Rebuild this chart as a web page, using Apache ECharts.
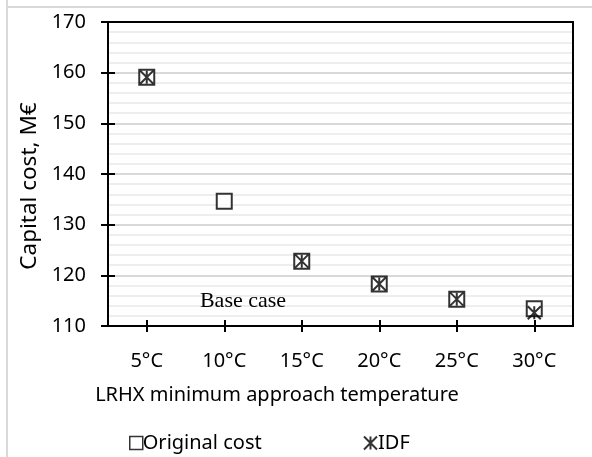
<!DOCTYPE html>
<html>
<head>
<meta charset="utf-8">
<script src="https://cdn.jsdelivr.net/npm/echarts@6/dist/echarts.min.js"></script>
<style>
html,body{margin:0;padding:0;background:#fff;}
#c{width:592px;height:457px;}
</style>
</head>
<body>
<div id="c"></div>
<script>
const categories = ['5°C', '10°C', '15°C', '20°C', '25°C', '30°C'];
const originalCost = [159.1, 134.6, 122.8, 118.3, 115.3, 113.4];
const idf = [159.1, null, 122.8, 118.3, 115.3, 112.6];
const yTicks = [110, 120, 130, 140, 150, 160, 170];

const FONT = 'Noto Sans';
const STAR = 'path://M0,0L10,10M10,0L0,10M5,0L5,10';

const GRID = {left: 108, right: 19, top: 22, bottom: 131};
const W = 592, H = 457;
const plotW = W - GRID.left - GRID.right;
const plotH = H - GRID.top - GRID.bottom;

const chart = echarts.init(document.getElementById('c'), null, {renderer: 'canvas'});
const yMin = yTicks[0], yMax = yTicks[yTicks.length - 1];

chart.setOption({
  animation: false,
  backgroundColor: '#fff',
  grid: Object.assign({show: true, borderColor: '#000', borderWidth: 2, z: 10}, GRID),
  xAxis: [{
    type: 'category', data: categories, boundaryGap: true, position: 'bottom',
    axisLine: {onZero: false, lineStyle: {color: '#000', width: 2}},
    axisTick: {show: true, alignWithLabel: true, length: 6, lineStyle: {color: '#000', width: 2}},
    axisLabel: {color: '#000', fontFamily: FONT, fontSize: 20, margin: 25},
    splitLine: {show: false}
  }, {
    type: 'category', data: categories, boundaryGap: true, position: 'top', offset: -plotH,
    axisLine: {show: false, onZero: false},
    axisTick: {show: true, alignWithLabel: true, length: 6, lineStyle: {color: '#000', width: 2}},
    axisLabel: {show: false}, splitLine: {show: false}
  }],
  yAxis: [{
    type: 'value', min: yMin, max: yMax, interval: 10, position: 'left',
    axisLine: {show: true, onZero: false, lineStyle: {color: '#000', width: 2}},
    axisTick: {show: true, length: 7, lineStyle: {color: '#000', width: 2}},
    axisLabel: {color: '#000', fontFamily: FONT, fontSize: 20, margin: 22},
    splitLine: {show: true, lineStyle: {color: '#d9d9d9', width: 2}},
    minorTick: {show: false, splitNumber: 5},
    minorSplitLine: {show: true, lineStyle: {color: '#eeeeee', width: 2}},
    name: 'Capital cost, M€', nameLocation: 'middle', nameGap: 64,
    nameTextStyle: {color: '#000', fontFamily: FONT, fontSize: 22.5, padding: [0, 24, 0, 0]}
  }, {
    type: 'value', min: yMin, max: yMax, interval: 10, position: 'right', offset: -plotW,
    axisLine: {show: false, onZero: false},
    axisTick: {show: true, length: 7, lineStyle: {color: '#000', width: 2}},
    axisLabel: {show: false}, splitLine: {show: false}
  }],
  legend: [{
    data: [{name: 'Original cost', icon: 'rect'}],
    left: 124, top: 428, itemWidth: 13, itemHeight: 13, itemGap: 10,
    textStyle: {color: '#000', fontFamily: FONT, fontSize: 20, padding: [0, 0, 0, -5]},
    itemStyle: {color: '#fff', borderColor: '#000', borderWidth: 1.5}
  }, {
    data: [{name: 'IDF', icon: STAR}],
    left: 358, top: 428, itemWidth: 13, itemHeight: 13,
    textStyle: {color: '#000', fontFamily: FONT, fontSize: 20, padding: [0, 0, 0, -4]},
    itemStyle: {color: 'transparent', borderColor: '#000', borderWidth: 2}
  }],
  graphic: [
    {type: 'line', shape: {x1: 7, y1: 0, x2: 7, y2: 457}, style: {stroke: '#d9d9d9', lineWidth: 2}, silent: true},
    {type: 'line', shape: {x1: 6, y1: 7, x2: 592, y2: 7}, style: {stroke: '#d9d9d9', lineWidth: 2}, silent: true},
    {type: 'text', x: 277, y: 395, z: 10, style: {text: 'LRHX minimum approach temperature', fill: '#000', font: '20px "Noto Sans"', align: 'center', verticalAlign: 'middle'}},
    {type: 'text', x: 243, y: 301, z: 10, style: {text: 'Base case', fill: '#000', font: '22px "Liberation Serif"', align: 'center', verticalAlign: 'middle'}}
  ],
  series: [{
    name: 'Original cost', type: 'scatter', data: originalCost,
    symbol: 'rect', symbolSize: 15,
    itemStyle: {color: '#fff', borderColor: '#000', borderWidth: 2}, z: 3
  }, {
    name: 'IDF', type: 'scatter', data: idf,
    symbol: STAR, symbolSize: 13,
    itemStyle: {color: 'transparent', borderColor: '#000', borderWidth: 2}, z: 4
  }]
});
</script>
</body>
</html>
